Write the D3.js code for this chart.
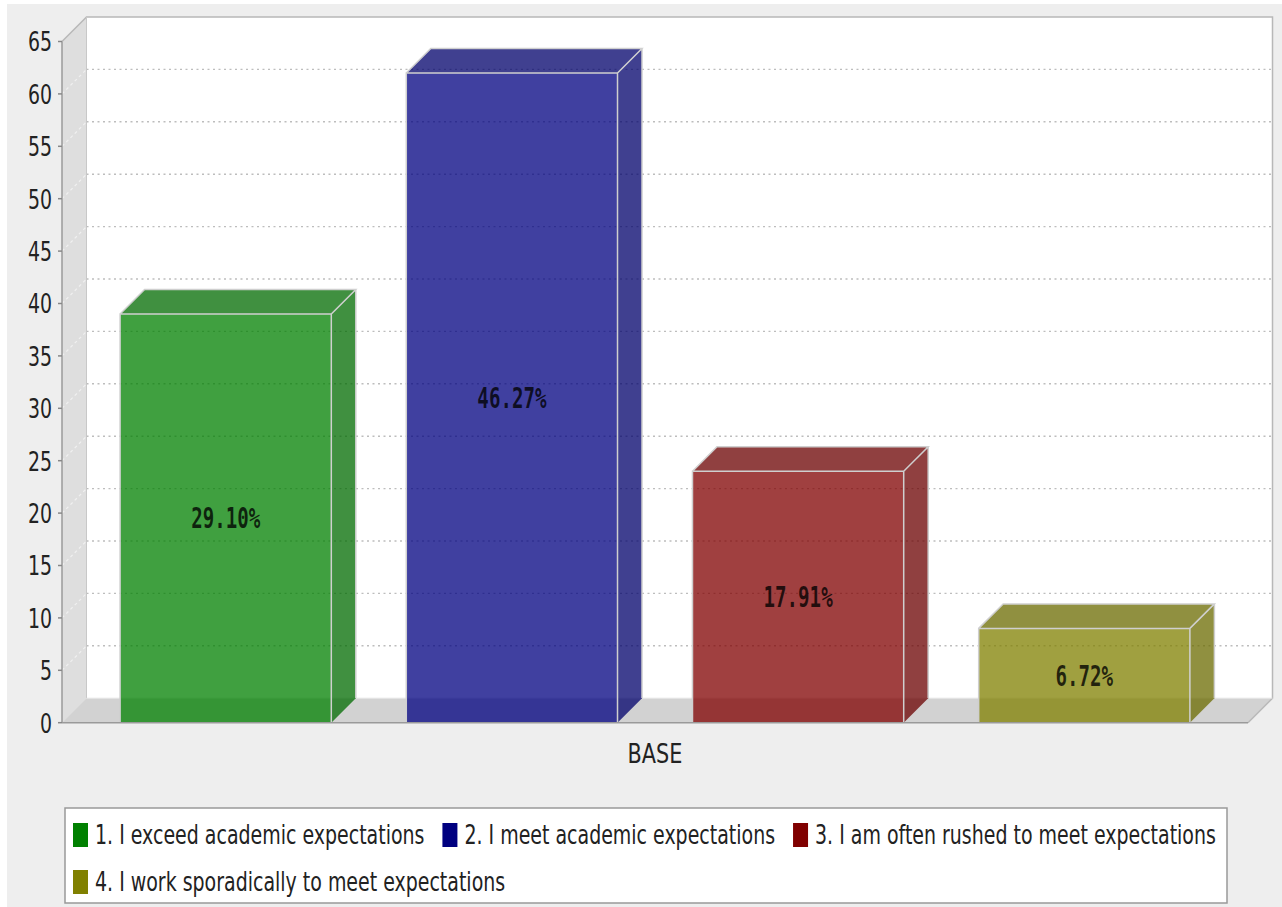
<!DOCTYPE html>
<html>
<head>
<meta charset="utf-8">
<script src="https://cdn.jsdelivr.net/npm/d3@7"></script>
<style>
  body { margin: 0; background: #fff; }
  svg { display: block; }
</style>
</head>
<body>
<div id="chart"></div>
<script>
const category = "BASE";
const series = [
  "1. I exceed academic expectations",
  "2. I meet academic expectations",
  "3. I am often rushed to meet expectations",
  "4. I work sporadically to meet expectations"
];
const counts = [39, 62, 24, 9];
const pctLabels = ["29.10%", "46.27%", "17.91%", "6.72%"];
const colors = ["#008000", "#000080", "#800000", "#808000"];
const yTicks = [0, 5, 10, 15, 20, 25, 30, 35, 40, 45, 50, 55, 60, 65];

const W = 1282, H = 907;
const SX = 0.7;            // text is drawn narrow, like the picture
const font = "DejaVu Sans";
const depth = [24.5, 24.5]; // 3d offset

const svg = d3.select("#chart").append("svg").attr("width", W).attr("height", H);

// frame of plot (front plane)
const fx = [62, 1248], fy = [722.7, 41.5];

const y = d3.scaleLinear().domain([0, 65]).range(fy);
const x = d3.scaleBand().domain(series).range(fx)
  .paddingInner(0.262).paddingOuter(0.203);

function txt(g, px, py, s, anchor, size, weight, fam, sx) {
  return g.append("text")
    .attr("transform", `translate(${px},${py}) scale(${sx || SX},1)`)
    .attr("text-anchor", anchor || "start")
    .attr("dominant-baseline", "central")
    .style("font-family", fam || font)
    .style("font-size", (size || 26) + "px")
    .style("font-weight", weight || "normal")
    .text(s);
}

const poly = pts => "M" + pts.map(p => p.join(",")).join("L") + "Z";

// background
svg.append("rect").attr("x", 7).attr("y", 4).attr("width", W - 7).attr("height", H - 4)
  .attr("fill", "#eeeeee");

const [dx, dy] = depth;
const y0 = y(0), yTop = y(65);

// left wall
svg.append("path").attr("d", poly([[fx[0], y0], [fx[0], yTop], [fx[0] + dx, yTop - dy], [fx[0] + dx, y0 - dy]]))
  .attr("fill", "#dedede");
// floor
svg.append("path").attr("d", poly([[fx[0], y0], [fx[0] + dx, y0 - dy], [fx[1] + dx, y0 - dy], [fx[1], y0]]))
  .attr("fill", "#d2d2d2");
// back wall
svg.append("rect").attr("x", fx[0] + dx).attr("y", yTop - dy)
  .attr("width", fx[1] - fx[0]).attr("height", y0 - yTop)
  .attr("fill", "#ffffff");

// grid lines
const grid = svg.append("g").attr("class", "grid");
yTicks.filter(t => t > 0 && t < 65).forEach(t => {
  grid.append("line")
    .attr("x1", fx[0] + dx).attr("x2", fx[1] + dx)
    .attr("y1", y(t) - dy).attr("y2", y(t) - dy)
    .attr("stroke", "#bdbdbd").attr("stroke-width", 1.4)
    .attr("stroke-dasharray", "2,3.5");
  grid.append("line")
    .attr("x1", fx[0]).attr("x2", fx[0] + dx)
    .attr("y1", y(t)).attr("y2", y(t) - dy)
    .attr("stroke", "#f0f0f0").attr("stroke-width", 1.2)
    .attr("stroke-dasharray", "3,3");
});

// wall outlines
const edge = "#b8b8b8";
svg.append("path")
  .attr("d", `M${fx[0]},${yTop}L${fx[0] + dx},${yTop - dy}L${fx[1] + dx},${yTop - dy}L${fx[1] + dx},${y0 - dy}L${fx[1]},${y0}`)
  .attr("fill", "none").attr("stroke", edge).attr("stroke-width", 1.5);
svg.append("line")
  .attr("x1", fx[0] + dx).attr("x2", fx[0] + dx).attr("y1", yTop - dy).attr("y2", y0 - dy)
  .attr("stroke", "#c8c8c8").attr("stroke-width", 1);
svg.append("line")
  .attr("x1", fx[0] + dx).attr("x2", fx[1] + dx).attr("y1", y0 - dy).attr("y2", y0 - dy)
  .attr("stroke", "#e4e4e4").attr("stroke-width", 1);

// bars
const bars = svg.append("g").attr("class", "bars");
series.forEach((s, i) => {
  const x0 = x(s), x1 = x(s) + x.bandwidth(), yt = y(counts[i]);
  const c = d3.color(colors[i]);
  const dark = c.darker(0.5);
  const g = bars.append("g");
  g.append("path").attr("d", poly([[x1, y0], [x1, yt], [x1 + dx, yt - dy], [x1 + dx, y0 - dy]]))
    .attr("fill", dark).attr("fill-opacity", 0.75);
  g.append("path").attr("d", poly([[x0, yt], [x0 + dx, yt - dy], [x1 + dx, yt - dy], [x1, yt]]))
    .attr("fill", dark).attr("fill-opacity", 0.75);
  g.append("rect").attr("x", x0).attr("y", yt).attr("width", x1 - x0).attr("height", y0 - yt)
    .attr("fill", c).attr("fill-opacity", 0.75);
  g.append("path")
    .attr("d", `M${x0},${y0}L${x0},${yt}L${x1},${yt}L${x1},${y0}M${x0},${yt}L${x0 + dx},${yt - dy}L${x1 + dx},${yt - dy}L${x1},${yt}M${x1 + dx},${yt - dy}L${x1 + dx},${y0 - dy}`)
    .attr("fill", "none").attr("stroke", "#cfcfcf").attr("stroke-width", 1.5);
});

// value labels
series.forEach((s, i) => {
  txt(svg, x(s) + x.bandwidth() / 2, (y(counts[i]) + y0) / 2, pctLabels[i], "middle", 29, "bold", "DejaVu Sans Mono", 0.66)
    .attr("fill", "#000").attr("fill-opacity", 0.78);
});

// y axis
const ax = svg.append("g");
ax.append("line").attr("x1", fx[0]).attr("x2", fx[0]).attr("y1", yTop).attr("y2", y0)
  .attr("stroke", "#9a9a9a").attr("stroke-width", 1.5);
ax.append("line").attr("x1", fx[0]).attr("x2", fx[1]).attr("y1", y0).attr("y2", y0)
  .attr("stroke", "#9a9a9a").attr("stroke-width", 1.5);
yTicks.forEach(t => {
  ax.append("line").attr("x1", fx[0] - 4).attr("x2", fx[0]).attr("y1", y(t)).attr("y2", y(t))
    .attr("stroke", "#888").attr("stroke-width", 1.5);
  txt(ax, 52, y(t), String(t), "end", 27).attr("fill", "#222");
});

// category label
txt(svg, (fx[0] + fx[1]) / 2, 754, category, "middle", 26, "normal", font, 0.8).attr("fill", "#222");

// legend
const LSX = 0.73;
const lg = svg.append("g");
const box = { x: 65, y: 808, w: 1162, h: 95 };
lg.append("rect").attr("x", box.x).attr("y", box.y).attr("width", box.w).attr("height", box.h)
  .attr("fill", "#fff").attr("stroke", "#999").attr("stroke-width", 1.5);
let cx = box.x + 8, row = 0;
const rowY = [835, 882];
series.forEach((s, i) => {
  const t = txt(lg, 0, 0, s, "start", 26, "normal", font, LSX).attr("fill", "#222");
  const w = t.node().getComputedTextLength() * LSX;
  if (cx + 22 + w > box.x + box.w - 4) { row++; cx = box.x + 8; }
  lg.append("rect").attr("x", cx).attr("y", rowY[row] - 12).attr("width", 15).attr("height", 24)
    .attr("fill", colors[i]);
  t.attr("transform", `translate(${cx + 22},${rowY[row]}) scale(${LSX},1)`);
  cx += 22 + w + 18;
});
</script>
</body>
</html>
